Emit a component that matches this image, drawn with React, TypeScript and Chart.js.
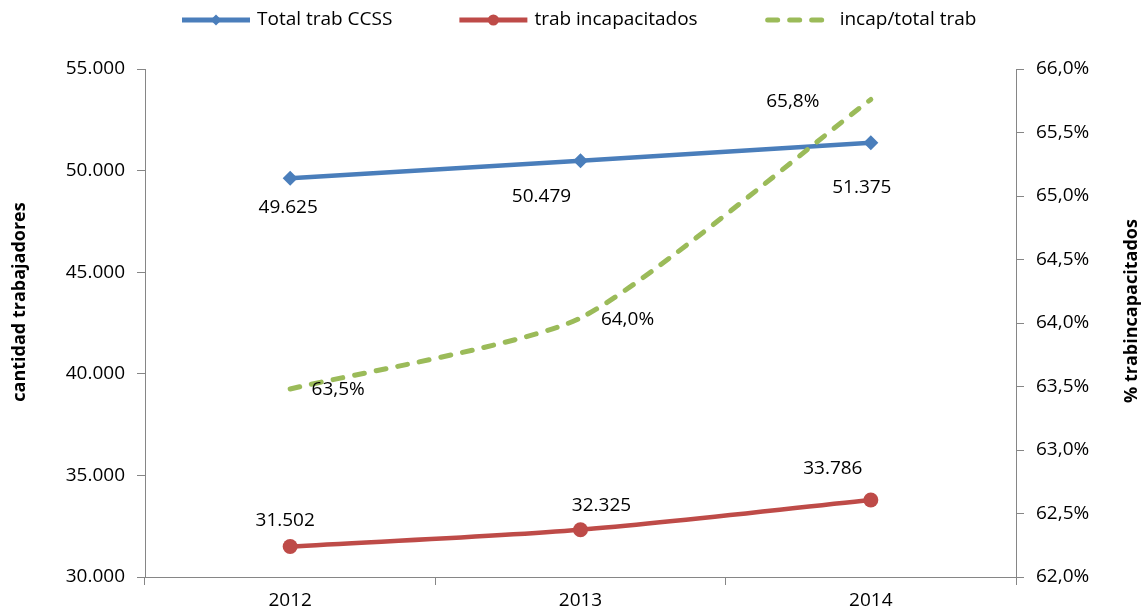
import React, { useEffect, useRef } from 'react';
import { Chart, registerables } from 'chart.js';

Chart.register(...registerables);

// ---- data ----
const categories = ['2012', '2013', '2014'];
const totalTrab = [49625, 50479, 51375];
const trabIncap = [31502, 32325, 33786];
const incapPct = [63.48, 64.04, 65.76];
const seriesNames = ['Total trab CCSS', 'trab incapacitados', 'incap/total trab'];
const leftAxisTitle = 'cantidad trabajadores';
const rightAxisTitle = '% trabincapacitados';

// ---- style ----
const FONT = "'Open Sans', 'Liberation Sans', sans-serif";
const BLUE = '#4A7EBB';
const RED = '#BE4B48';
const GREEN = '#9BBB59';
const AXIS = '#868686';
const TXT = '#000000';
const GREEN_DASH = [10, 12];

// label offsets (px) relative to each point
const blueLabelOffsets = [[-2, 29], [-39, 36], [-9, 45]];
const redLabelOffsets = [[-5, -26], [21, -24], [-38, -31]];
const greenLabelOffsets = [[48, 1], [47, 2], [-78, 2]];

const fmtThousands = (v: number) =>
  Math.round(v).toString().replace(/\B(?=(\d{3})+(?!\d))/g, '.');
const fmtPct = (v: number) => v.toFixed(1).replace('.', ',') + '%';

const labelsPlugin = {
  id: 'pointLabels',
  afterDatasetsDraw(chart: any) {
    const ctx = chart.ctx;
    ctx.save();
    ctx.font = `19px ${FONT}`;
    ctx.fillStyle = TXT;
    ctx.textAlign = 'center';
    ctx.textBaseline = 'middle';
    const defs = [
      { idx: 0, offs: blueLabelOffsets, fmt: fmtThousands },
      { idx: 1, offs: redLabelOffsets, fmt: fmtThousands },
      { idx: 2, offs: greenLabelOffsets, fmt: fmtPct },
    ];
    defs.forEach(({ idx, offs, fmt }) => {
      const meta = chart.getDatasetMeta(idx);
      const data = chart.data.datasets[idx].data as number[];
      meta.data.forEach((pt: any, i: number) => {
        ctx.fillText(fmt(data[i]), pt.x + offs[i][0], pt.y + offs[i][1]);
      });
    });
    ctx.restore();
  },
};

const titlesPlugin = {
  id: 'axisTitles',
  afterDraw(chart: any) {
    const ctx = chart.ctx;
    const area = chart.chartArea;
    const cy = (area.top + area.bottom) / 2;
    ctx.save();
    ctx.font = `bold 18px ${FONT}`;
    ctx.fillStyle = TXT;
    ctx.textAlign = 'center';
    ctx.textBaseline = 'middle';
    const items: [number, number, string][] = [
      [20, cy - 21, leftAxisTitle],
      [1132, cy - 12, rightAxisTitle],
    ];
    items.forEach(([x, y, t]) => {
      ctx.save();
      ctx.translate(x, y);
      ctx.rotate(-Math.PI / 2);
      ctx.fillText(t, 0, 0);
      ctx.restore();
    });
    ctx.restore();
  },
};

const legendPlugin = {
  id: 'customLegend',
  afterDraw(chart: any) {
    const ctx = chart.ctx;
    const y = 20;
    const lineLen = 68;
    const textGap = 7;
    const itemGap = 67;
    let x = 182;
    ctx.save();
    ctx.font = `19px ${FONT}`;
    ctx.textBaseline = 'middle';
    ctx.textAlign = 'left';
    const colors = [BLUE, RED, GREEN];
    seriesNames.forEach((name, i) => {
      const c = colors[i];
      ctx.strokeStyle = c;
      ctx.fillStyle = c;
      ctx.lineWidth = 5;
      if (i === 2) {
        ctx.setLineDash(GREEN_DASH);
        ctx.lineCap = 'round';
      } else {
        ctx.setLineDash([]);
        ctx.lineCap = 'butt';
      }
      ctx.beginPath();
      ctx.moveTo(x + (i === 2 ? 3 : 0), y);
      ctx.lineTo(x + lineLen, y);
      ctx.stroke();
      ctx.setLineDash([]);
      const mx = x + lineLen / 2;
      if (i === 0) {
        const r = 5.5;
        ctx.beginPath();
        ctx.moveTo(mx, y - r);
        ctx.lineTo(mx + r, y);
        ctx.lineTo(mx, y + r);
        ctx.lineTo(mx - r, y);
        ctx.closePath();
        ctx.fill();
      } else if (i === 1) {
        ctx.beginPath();
        ctx.arc(mx, y, 5.5, 0, Math.PI * 2);
        ctx.fill();
      }
      ctx.fillStyle = TXT;
      const tx = x + lineLen + textGap;
      ctx.fillText(name, tx, y);
      x = tx + ctx.measureText(name).width + itemGap;
    });
    ctx.restore();
  },
};

export default function App() {
  const ref = useRef<HTMLCanvasElement>(null);

  useEffect(() => {
    document.body.style.margin = '0';
    Chart.defaults.font.family = FONT;
    const chart = new Chart(ref.current as HTMLCanvasElement, {
      type: 'line',
      data: {
        labels: categories,
        datasets: [
          {
            label: seriesNames[0],
            data: totalTrab,
            yAxisID: 'y',
            borderColor: BLUE,
            backgroundColor: BLUE,
            borderWidth: 4.5,
            pointStyle: 'rectRot',
            pointRadius: 7.5,
            pointBorderWidth: 0,
            pointBackgroundColor: BLUE,
            tension: 0.3,
            order: 2,
          },
          {
            label: seriesNames[1],
            data: trabIncap,
            yAxisID: 'y',
            borderColor: RED,
            backgroundColor: RED,
            borderWidth: 4.5,
            pointStyle: 'circle',
            pointRadius: 7.5,
            pointBorderWidth: 0,
            pointBackgroundColor: RED,
            tension: 0.3,
            order: 1,
          },
          {
            label: seriesNames[2],
            data: incapPct,
            yAxisID: 'y1',
            borderColor: GREEN,
            backgroundColor: GREEN,
            borderWidth: 5,
            borderDash: GREEN_DASH,
            borderCapStyle: 'round',
            pointRadius: 0,
            tension: 0.2,
            order: 0,
          },
        ],
      },
      options: {
        animation: false,
        responsive: false,
        maintainAspectRatio: false,
        layout: { padding: { top: 69, left: 0, right: 0, bottom: 0 } },
        plugins: {
          legend: { display: false },
          tooltip: { enabled: false },
        },
        scales: {
          x: {
            type: 'category',
            offset: true,
            grid: {
              offset: true,
              drawOnChartArea: false,
              drawTicks: true,
              tickLength: 8,
              color: AXIS,
            },
            border: { color: AXIS, width: 1 },
            ticks: { color: TXT, font: { size: 19 }, padding: 4, maxRotation: 0 },
            afterFit: (s: any) => {
              s.height = 34;
            },
          },
          y: {
            position: 'left',
            min: 30000,
            max: 55000,
            grid: { drawOnChartArea: false, tickLength: 8, color: AXIS },
            border: { color: AXIS, width: 1 },
            ticks: {
              stepSize: 5000,
              color: TXT,
              font: { size: 19 },
              padding: 12,
              callback: (v: any) => fmtThousands(Number(v)),
            },
            afterFit: (s: any) => {
              s.width = 145;
            },
          },
          y1: {
            position: 'right',
            min: 62,
            max: 66,
            grid: { drawOnChartArea: false, tickLength: 8, color: AXIS },
            border: { color: AXIS, width: 1 },
            ticks: {
              stepSize: 0.5,
              color: TXT,
              font: { size: 19 },
              padding: 12,
              callback: (v: any) => fmtPct(Number(v)),
            },
            afterFit: (s: any) => {
              s.width = 126;
            },
          },
        },
      },
      plugins: [labelsPlugin, titlesPlugin, legendPlugin],
    } as any);
    return () => chart.destroy();
  }, []);

  return (
    <div style={{ width: 1142, height: 611, background: '#ffffff' }}>
      <canvas ref={ref} width={1142} height={611} style={{ display: 'block' }} />
    </div>
  );
}
